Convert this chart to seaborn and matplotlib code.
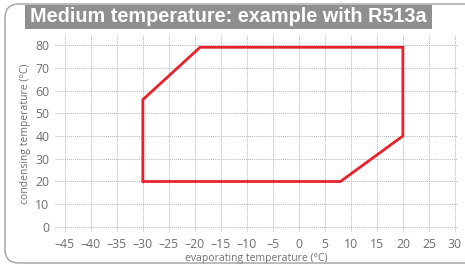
import matplotlib
matplotlib.use("Agg")
import matplotlib.pyplot as plt
from matplotlib.patches import FancyBboxPatch, Rectangle
import numpy as np
import pandas as pd
import seaborn as sns

# envelope corners (evaporating, condensing), closed polygon
evap = [-30, 8, 20, 20, -19, -30, -30]
cond = [20, 20, 40, 79, 79, 56, 20]
x_ticks = list(range(-45, 31, 5))
y_ticks = list(range(0, 81, 10))

title = "Medium temperature: example with R513a"
grey_txt = "#6e6e6e"

sns.set_theme(style="white")
plt.rcParams['font.family'] = ['Open Sans', 'DejaVu Sans']

fig = plt.figure(figsize=(4.65, 2.71), dpi=100)
ax = fig.add_axes([55 / 465, 1 - 232 / 271, 403 / 465, 197 / 271])

df = pd.DataFrame({"evap": evap, "cond": cond})
sns.lineplot(data=df, x="evap", y="cond", sort=False, estimator=None,
             color="#e8212b", linewidth=2.0, ax=ax, solid_joinstyle="miter")

ax.set_xlim(-46.9, 30.6)
ax.set_ylim(-2.2, 84.4)
ax.set_xticks(x_ticks)
ax.set_yticks(y_ticks)
ax.set_xticklabels([str(v).replace("-", "\u2013") if v < 0 else str(v) for v in x_ticks])
ax.grid(True, color="#b5b5b5", linestyle=(0, (1, 1)), linewidth=0.7)
for s in ax.spines.values():
    s.set_visible(False)
ax.tick_params(axis="both", length=0, labelsize=8.8, colors=grey_txt, pad=4)
ax.set_xlabel("evaporating temperature (°C)", fontsize=7.5, color=grey_txt, labelpad=2)
ax.set_ylabel("condensing temperature (°C)", fontsize=7.5, color=grey_txt, labelpad=3)

# title bar
fig.patches.append(Rectangle((25 / 465, 1 - 29 / 271), 407 / 465, 24 / 271,
                             transform=fig.transFigure, facecolor="#8f8f8f",
                             edgecolor="none", zorder=0))
fig.text(30 / 465, 1 - 17 / 271, title, color="white", fontsize=14.3,
         fontweight="bold", family=["Liberation Sans", "DejaVu Sans"],
         va="center", ha="left")

# rounded outer frame
fig.patches.append(FancyBboxPatch((5 / 465, 1 - 263 / 271), 520 / 465, 259 / 271,
                                  boxstyle="round,pad=0,rounding_size=0.03",
                                  transform=fig.transFigure, facecolor="none",
                                  edgecolor="#a0a0a0", linewidth=1.0, zorder=0,
                                  mutation_aspect=465 / 271))

fig.savefig("out.png", dpi=100)
